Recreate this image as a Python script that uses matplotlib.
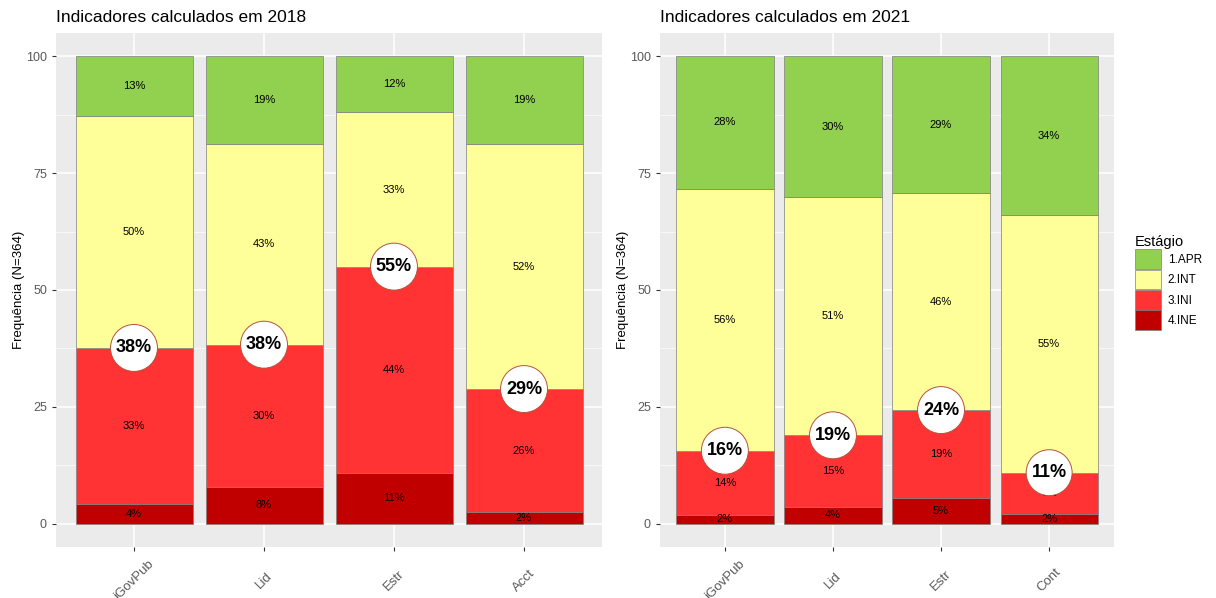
import numpy as np
import matplotlib.pyplot as plt
from matplotlib.patches import Patch

plt.rcParams["font.family"] = ["Liberation Sans", "DejaVu Sans"]

stages = ["1.APR", "2.INT", "3.INI", "4.INE"]
colors = {"1.APR": "#92D050", "2.INT": "#FFFF99", "3.INI": "#FF3333", "4.INE": "#C00000"}

cats_2018 = ["iGovPub", "Lid", "Estr", "Acct"]
ine_2018 = [4.3, 7.9, 10.9, 2.4]
ini_2018 = [33.3, 30.4, 44.1, 26.4]
int_2018 = [49.6, 42.9, 33.0, 52.4]
apr_2018 = [12.8, 18.8, 12.0, 18.8]

cats_2021 = ["iGovPub", "Lid", "Estr", "Cont"]
ine_2021 = [1.9, 3.6, 5.4, 2.1]
ini_2021 = [13.7, 15.3, 18.9, 8.8]
int_2021 = [56.1, 51.0, 46.4, 55.1]
apr_2021 = [28.3, 30.1, 29.3, 34.0]

fig = plt.figure(figsize=(12.16, 5.98), dpi=100)
ax1 = fig.add_axes([56/1216, 1-547/598, 546/1216, 514/598])
ax2 = fig.add_axes([660/1216, 1-547/598, 454/1216, 514/598])


def panel(ax, cats, ine, ini, itm, apr, title):
    ax.set_facecolor("#EBEBEB")
    x = np.arange(len(cats))
    # minor grid
    for yv in [12.5, 37.5, 62.5, 87.5]:
        ax.axhline(yv, color="white", lw=0.5, zorder=0)
    for yv in [0, 25, 50, 75, 100]:
        ax.axhline(yv, color="white", lw=1.1, zorder=0)
    for xv in x:
        ax.axvline(xv, color="white", lw=1.1, zorder=0)
    bottom = np.zeros(len(cats))
    for name, vals in [("4.INE", ine), ("3.INI", ini), ("2.INT", itm), ("1.APR", apr)]:
        vals = np.array(vals)
        ax.bar(x, vals, 0.9, bottom=bottom, color=colors[name],
               edgecolor="#7F7F7F", linewidth=0.5, zorder=2)
        for xi, b, v in zip(x, bottom, vals):
            ax.text(xi, b + v/2, f"{round(v)}%", ha="center", va="center",
                    fontsize=8, color="black", zorder=3)
        bottom = bottom + vals
    low = np.array(ine) + np.array(ini)
    for xi, v in zip(x, low):
        ax.text(xi, v, f"{round(v)}%", ha="center", va="center", fontsize=13,
                fontweight="bold", zorder=4,
                bbox=dict(boxstyle="circle,pad=0.3", fc="white", ec="#B5523B", lw=0.7))
    ax.set_xlim(-0.6, len(cats) - 0.4)
    ax.set_ylim(-5, 105)
    ax.set_xticks(x)
    ax.set_xticklabels(cats, rotation=45, ha="center", va="center",
                       color="#595959", fontsize=9.5)
    ax.set_yticks([0, 25, 50, 75, 100])
    ax.set_yticklabels(["0", "25", "50", "75", "100"], color="#595959", fontsize=9)
    ax.tick_params(length=3, color="#333333", width=0.8)
    ax.tick_params(axis="x", pad=21)
    for s in ax.spines.values():
        s.set_visible(False)
    ax.set_ylabel("Frequência (N=364)", fontsize=9.5, labelpad=1)
    ax.set_title(title, loc="left", fontsize=12.5, pad=8)


panel(ax1, cats_2018, ine_2018, ini_2018, int_2018, apr_2018, "Indicadores calculados em 2018")
panel(ax2, cats_2021, ine_2021, ini_2021, int_2021, apr_2021, "Indicadores calculados em 2021")

handles = [Patch(facecolor=colors[s], edgecolor="#7F7F7F", linewidth=0.5, label=s) for s in stages]
leg = fig.legend(handles=handles, title="Estágio", loc="upper left",
                 bbox_to_anchor=(1130/1216, 1-230/598), frameon=False,
                 fontsize=8.5, title_fontsize=10.5, handlelength=2.2, handleheight=2.2,
                 labelspacing=0.05, handletextpad=0.6, borderaxespad=0)
leg._legend_box.align = "left"

fig.savefig("out.png", dpi=100)
